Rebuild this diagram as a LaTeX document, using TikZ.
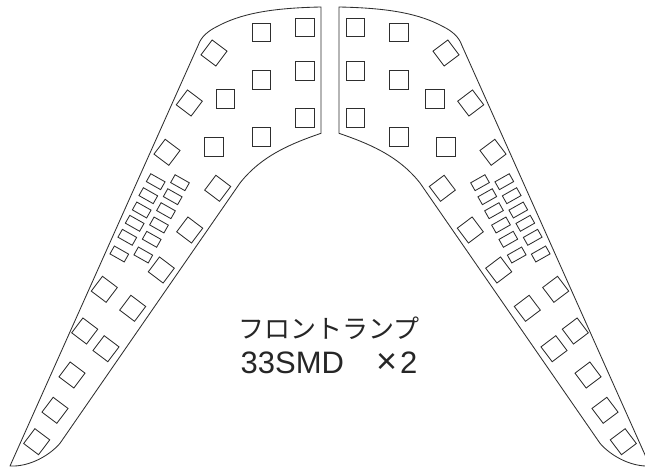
\documentclass[tikz,border=0pt]{standalone}
\usepackage{fontspec}
\setmainfont{Liberation Sans}
\newfontfamily\jpfont{Noto Sans CJK JP}
\tikzset{
  outline/.style={draw=black!82,line width=0.85pt,line join=round},
  led/.style={draw=black!82,line width=0.85pt,line join=miter},
  label/.style={inner sep=0pt,anchor=center,text=black!85},
}
\newcommand{\ledsq}[3]{\draw[led,shift={(#1,#2)},rotate=#3] (-9.3,-9.3) rectangle (9.3,9.3);}
\newcommand{\ledsm}[2]{\draw[led,shift={(#1,#2)},rotate=-29.5] (-8.2,-4.5) rectangle (8.2,4.5);}
\newcommand{\lamphalf}{%
  \draw[outline] (321,7) -- (321,133.3)
    .. controls (293,143) and (262,155) .. (240,183)
    -- (60,443.3)
    .. controls (50,455) and (30,467) .. (10,466)
    -- (198.3,45)
    .. controls (201,37) and (208,31) .. (216.7,26.7)
    .. controls (240,14) and (270,8) .. (321,7) -- cycle;
  \foreach \x/\y in {304.7/27.3,304.7/71,304.7/118,261.3/32.3,261.3/80,261.3/137,225.3/98.7,214/146.7}
    {\ledsq{\x}{\y}{0}}
  \foreach \x/\y in {214/53,189.3/103,167/152.3,217.7/188.3,189.7/230,161.3/270,104.3/289.3,132.7/308.3,84.7/331,106/348.7,72/375,55/410.3,36.7/441.7}
    {\ledsq{\x}{\y}{-37}}
  \foreach \x/\y in {155.7/181.7,148.3/195.7,141.7/210,134.7/223.3,127.3/237.3,119.3/254,180/182.7,172.7/196.7,166/210.7,159/225,151.7/239.3,143.3/255}
    {\ledsm{\x}{\y}}
}
\begin{document}
\begin{tikzpicture}[x=1pt,y=-1pt]
  \useasboundingbox (0,0) rectangle (645,468);
  \clip (0,0) rectangle (645,468);
  \begin{scope}
    \lamphalf
  \end{scope}
  \begin{scope}[xshift=660pt,xscale=-1]
    \lamphalf
  \end{scope}
  \node[label] (title) at (329,328.5) {\jpfont\fontsize{26}{26}\selectfont フロントランプ};
  \node[label] (count) at (329,362.5) {\fontsize{31}{31}\selectfont 33SMD\hspace{32pt}{\fontsize{36}{36}\selectfont ×}\hspace{3pt}2};
\end{tikzpicture}
\end{document}
